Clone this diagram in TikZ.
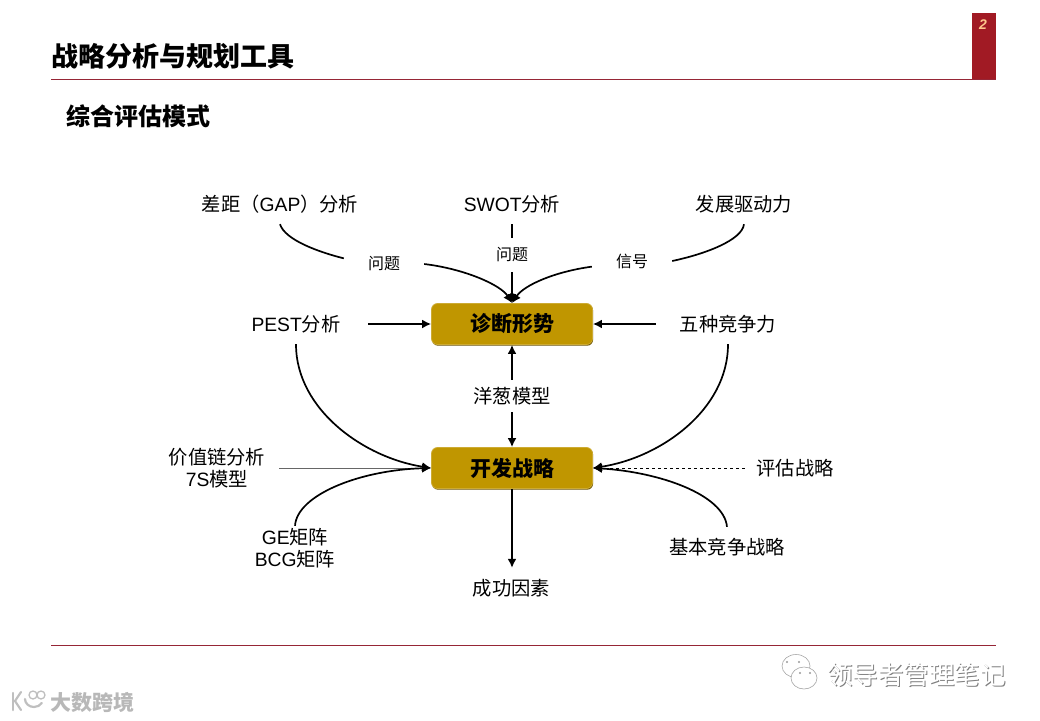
\documentclass[tikz,border=0pt]{standalone}
\usepackage{fontspec}
\usetikzlibrary{arrows.meta,shadows}
\setmainfont{Noto Sans CJK SC}
\newfontfamily\lat{Liberation Sans}
\definecolor{barred}{HTML}{A11A24}
\definecolor{rulered}{HTML}{962636}
\definecolor{boxgold}{HTML}{C09600}
\tikzset{
  lbl/.style={inner sep=0pt,minimum width=144pt,minimum height=40pt,align=center,font=\fontsize{19.3}{22}\selectfont},
  tag/.style={inner sep=0pt,minimum width=80pt,minimum height=34pt,font=\fontsize{16}{18}\selectfont},
  keybox/.style={draw=boxgold!80!white,line width=.8pt,fill=boxgold,rounded corners=6pt,minimum width=161pt,minimum height=41pt,inner sep=0pt,font=\fontsize{21}{24}\selectfont\bfseries,
    drop shadow={shadow xshift=.6pt,shadow yshift=-1.2pt,fill=boxgold!55!black,opacity=1}},
  link/.style={line width=1.7pt},
  mark shadow/.style={inner sep=0pt,text=black!50},
  mark face/.style={inner sep=0pt,text=white},
}
\begin{document}
\begin{tikzpicture}[x=1pt,y=-1pt,>={Latex[length=9pt,width=9pt]}]
  \useasboundingbox (0,0) rectangle (1040,720);

  % page frame
  \fill[barred] (972,13) rectangle (996,79);
  \node[inner sep=0pt,text=orange!45,font=\fontsize{14}{16}\selectfont\lat\bfseries\itshape] (pageno) at (983,25) {2};
  \draw[rulered,line width=.8pt] (51,79) -- (996,79);
  \draw[rulered,line width=.8pt] (51,645) -- (996,645);
  \node[inner sep=0pt,anchor=west,font=\fontsize{27}{30}\selectfont\bfseries] (title) at (51,56) {战略分析与规划工具};
  \node[inner sep=0pt,anchor=west,font=\fontsize{24}{28}\selectfont\bfseries] (subtitle) at (66,116) {综合评估模式};

  % the two central boxes
  \node[keybox] (diag) at (512,324) {诊断形势};
  \node[keybox] (dev) at (512,468) {开发战略};

  % labels
  \foreach \nm/\xc/\yc/\txt in {
    gap/280/204/差距（{\lat GAP}）分析,
    swot/512/204/{\lat SWOT}分析,
    drive/744/204/发展驱动力,
    pest/296/324/{\lat PEST}分析,
    five/728/324/五种竞争力,
    success/513.5/588/成功因素
  }
  {
    \node[lbl] (\nm) at (\xc,\yc) {\txt};
  }
  \node[lbl,minimum width=124pt,minimum height=44pt] (chain) at (217,468) {价值链分析\\{\lat 7S}模型};
  \node[lbl,minimum width=100pt] (eval) at (795,468) {评估战略};
  \node[lbl,minimum height=44pt] (ge) at (295,548) {{\lat GE}矩阵\\{\lat BCG}矩阵};
  \node[lbl] (generic) at (727,547) {基本竞争战略};
  \node[lbl,minimum height=32pt] (onion) at (512,396) {洋葱模型};
  \node[tag] (q1) at (384,264) {问题};
  \node[tag] (q2) at (512,255) {问题};
  \node[tag] (sig) at (632,261) {信号};

  % top row into the diagnosis box
  \draw[link] (gap.south) .. controls +(5,16) and +(-24,-6) .. (q1.172);
  \draw[link,->] (q1.east) .. controls +(41,5) and +(-11,-18) .. (diag.north);
  \draw[link] (swot.south) -- (q2.north);
  \draw[link,->] (q2.south) -- (diag.north);
  \draw[link] (drive.south) .. controls +(-2,16) and +(33,-7) .. (sig.east);
  \draw[link,->] (sig.188) .. controls +(-37,5) and +(12,-18) .. (diag.north);
  \draw[link,->] (pest.east) -- (diag.west);
  \draw[link,->] (five.west) -- (diag.east);

  % around the onion model
  \draw[link,->] (onion.north) -- (diag.south);
  \draw[link,->] (onion.south) -- (dev.north);

  % into the development box
  \draw[black!60,line width=1pt,->] (chain.east) -- (dev.west);
  \draw[line width=.8pt,dashed,->] (eval.west) -- (dev.east);
  \draw[link,->] (pest.south) .. controls +(0,66) and +(-66,-10) .. (dev.west);
  \draw[link,->] (five.south) .. controls +(0,66) and +(67,-10) .. (dev.east);
  \draw[link,->] (ge.north) .. controls +(2,-31) and +(-71,2) .. (dev.west);
  \draw[link,->] (generic.north) .. controls +(-3,-32) and +(67,4) .. (dev.east);
  \draw[link,->] (dev.south) -- (success.north -| dev.south);

  % watermarks
  \node[mark shadow,anchor=west,font=\fontsize{25.5}{28}\selectfont] (wm1) at (827.8,675.8) {领导者管理笔记};
  \node[mark face,anchor=west,font=\fontsize{25.5}{28}\selectfont] (wm2) at (827,675) {领导者管理笔记};
  \draw[black!35,line width=.6pt,fill=white] (796,666) ellipse (14 and 11.5);
  \draw[black!35,line width=.6pt,fill=white] (804,678) ellipse (13 and 11);
  \foreach \xd/\yd in {787/662,799/662,800/673,810/673}
  {
    \fill[black!40] (\xd,\yd) circle(1.2);
  }
  \node[inner sep=0pt,text=black!28,anchor=west,font=\fontsize{21}{24}\selectfont\bfseries] (wm3) at (50,702) {大数跨境};
  \draw[black!25,line width=2.5pt,line cap=round] (13,693) -- (13,710);
  \draw[black!25,line width=2.2pt,line cap=round] (21,692) -- (15,701) -- (21,710);
  \draw[black!25,line width=2.2pt,line cap=round] (25,699) arc (180:30:9 and 8);
  \draw[black!25,line width=1.3pt] (33,695) circle(4);
  \draw[black!25,line width=1.3pt] (41,695) circle(4);
\end{tikzpicture}
\end{document}
